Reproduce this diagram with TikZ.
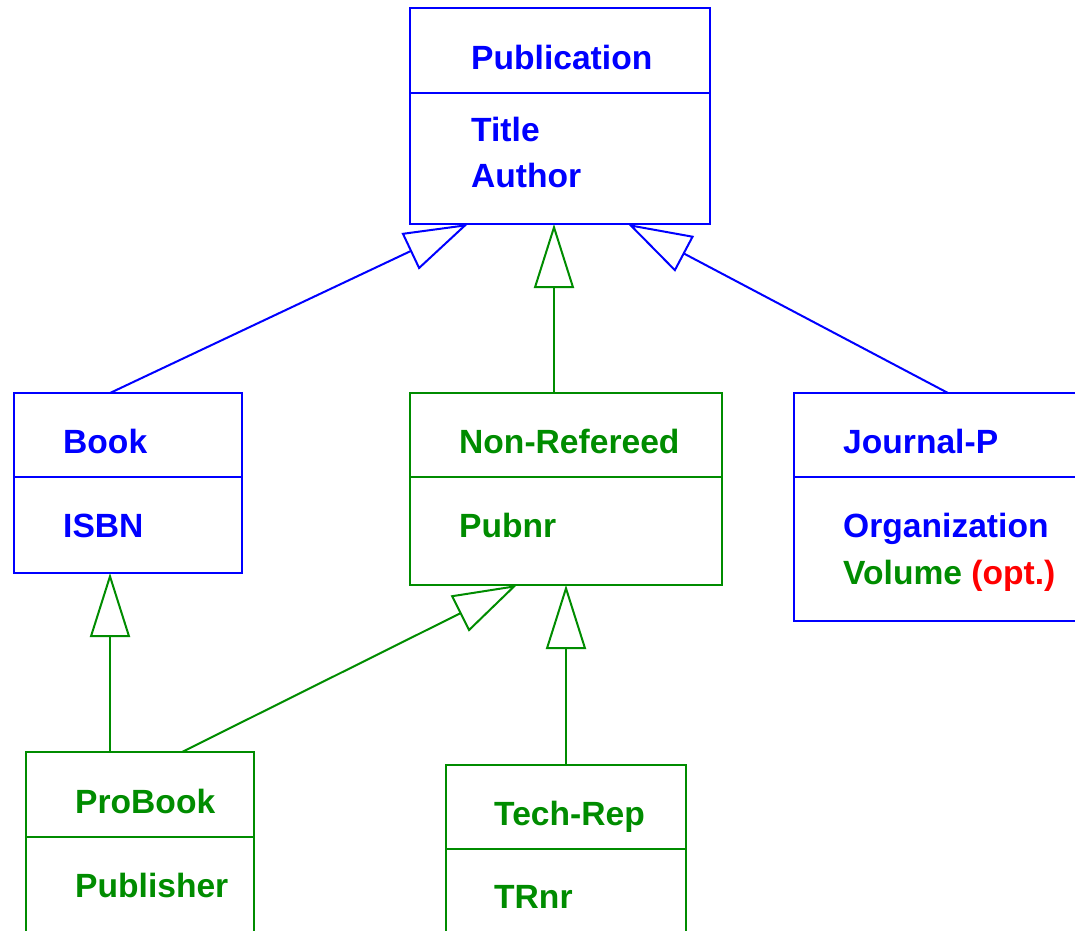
\documentclass[tikz,border=0pt]{standalone}
\usepackage{fontspec}
\setmainfont{Liberation Sans}
\usetikzlibrary{arrows.meta,calc}
\definecolor{ublue}{RGB}{0,0,255}
\definecolor{ugreen}{RGB}{0,140,0}
\definecolor{ured}{RGB}{255,0,0}
\tikzset{
  cls/.style={draw, line width=2pt, inner sep=0pt, outer sep=0pt, anchor=north west, fill=none},
  lbl/.style={anchor=base west, inner sep=0pt, font=\bfseries\fontsize{33.6}{40}\selectfont},
  divider/.style={line width=2pt},
  gen/.style={line width=2pt, -{Triangle[open, length=64pt, width=40pt]}},
}
\begin{document}
\begin{tikzpicture}[x=1pt,y=-1pt]
\useasboundingbox (0,0) rectangle (1075,930);
\clip (0,0) rectangle (1075,930);
% boxes
\node[cls, ublue, minimum width=300pt, minimum height=216pt] (pub) at (410,8) {};
\node[cls, ublue, minimum width=228pt, minimum height=180pt] (book) at (14,393) {};
\node[cls, ugreen, minimum width=312pt, minimum height=192pt] (nonref) at (410,393) {};
\node[cls, ublue, minimum width=290pt, minimum height=228pt] (journal) at (794,393) {};
\node[cls, ugreen, minimum width=228pt, minimum height=200pt] (probook) at (26,752) {};
\node[cls, ugreen, minimum width=240pt, minimum height=190pt] (techrep) at (446,765) {};
% dividers
\draw[divider, ublue] (410,93) -- (710,93);
\draw[divider, ublue] (14,477) -- (242,477);
\draw[divider, ugreen] (410,477) -- (722,477);
\draw[divider, ublue] (794,477) -- (1084,477);
\draw[divider, ugreen] (26,837) -- (254,837);
\draw[divider, ugreen] (446,849) -- (686,849);
% labels
\node[lbl, ublue] (t1) at (471,69) {Publication};
\node[lbl, ublue] (t2) at (471,141) {Title};
\node[lbl, ublue] (t3) at (471,187) {Author};
\node[lbl, ublue] (t4) at (63,453) {Book};
\node[lbl, ublue] (t5) at (63,537) {ISBN};
\node[lbl, ugreen] (t6) at (459,453) {Non-Refereed};
\node[lbl, ugreen] (t7) at (459,537) {Pubnr};
\node[lbl, ublue] (t8) at (843,453) {Journal-P};
\node[lbl, ublue] (t9) at (843,537) {Organization};
\node[lbl, ugreen] (t10) at (843,584) {Volume \textcolor{ured}{(opt.)}};
\node[lbl, ugreen] (t11) at (75,813) {ProBook};
\node[lbl, ugreen] (t12) at (75,897) {Publisher};
\node[lbl, ugreen] (t13) at (494,825) {Tech-Rep};
\node[lbl, ugreen] (t14) at (494,908) {TRnr};
% connector end points
\coordinate (pubA) at ($(pub.south west)+(58,0)$);
\coordinate (pubB) at ($(pub.south west)+(144,0)$);
\coordinate (pubC) at ($(pub.south west)+(218,0)$);
\coordinate (bookT) at ($(book.north west)+(96,0)$);
\coordinate (bookB) at ($(book.south west)+(96,0)$);
\coordinate (nrT) at ($(nonref.north west)+(144,0)$);
\coordinate (nrA) at ($(nonref.south west)+(107,0)$);
\coordinate (nrB) at ($(nonref.south west)+(156,0)$);
\coordinate (jT) at ($(journal.north west)+(154,0)$);
\coordinate (pbA) at ($(probook.north west)+(84,0)$);
\coordinate (pbB) at ($(probook.north west)+(156,0)$);
\coordinate (trT) at ($(techrep.north west)+(120,0)$);
% connectors
\draw[gen, ublue] (bookT) -- (pubA);
\draw[gen, ugreen] (nrT) -- (pubB);
\draw[gen, ublue] (jT) -- (pubC);
\draw[gen, ugreen] (pbA) -- (bookB);
\draw[gen, ugreen] (pbB) -- (nrA);
\draw[gen, ugreen] (trT) -- (nrB);
\end{tikzpicture}
\end{document}
